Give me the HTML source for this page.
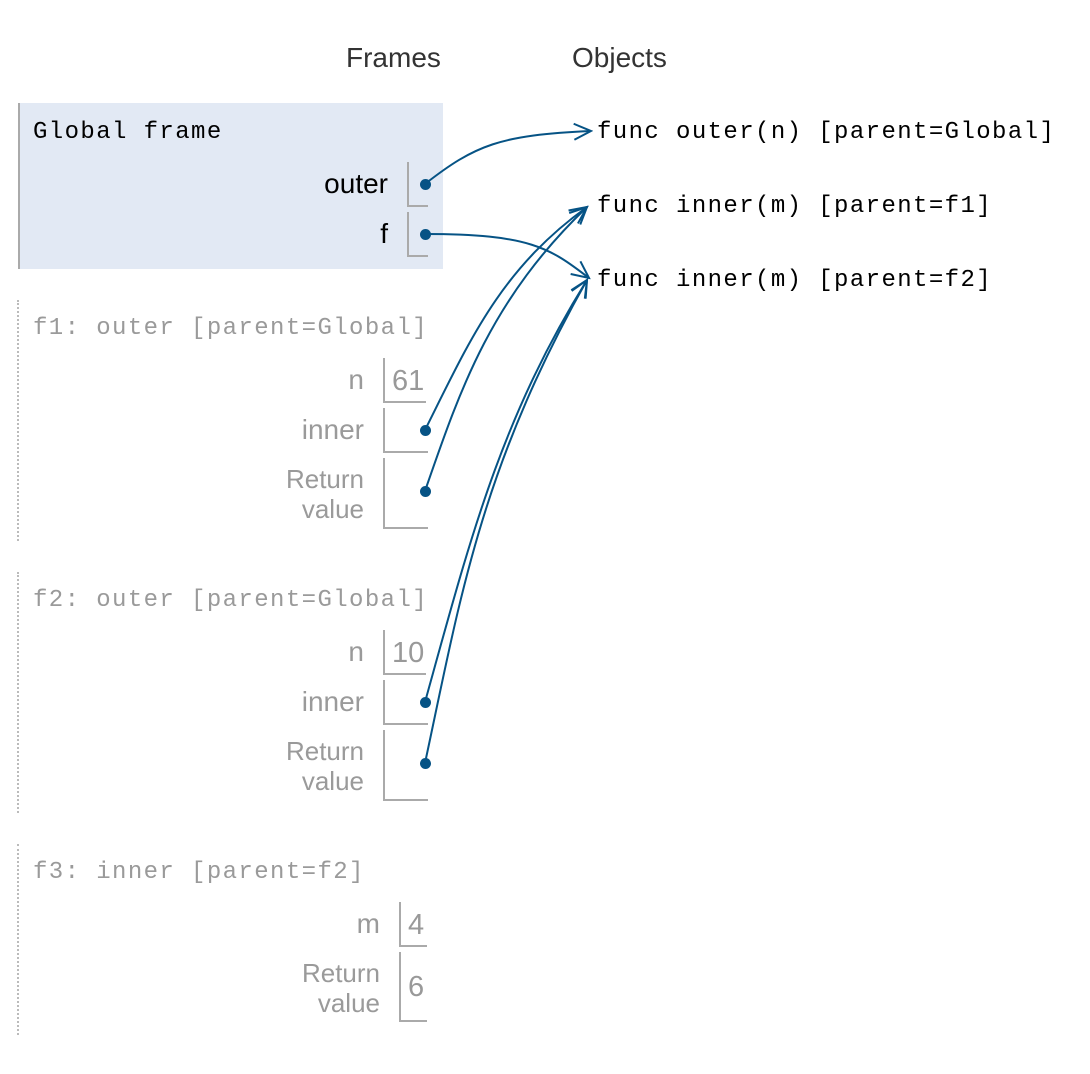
<!DOCTYPE html>
<html><head><meta charset="utf-8"><style>
body{margin:0;width:1090px;height:1074px;background:#fff;position:relative;overflow:hidden;font-family:"Liberation Sans",sans-serif}
.a{position:absolute;white-space:nowrap}
.mono{font-family:"Liberation Mono",monospace;font-size:24px;letter-spacing:1.4px}
.lbl{font-size:28px;text-align:right}
.g{color:#9a9a9a}
.box{position:absolute;border-left:2px solid #aaa;border-bottom:2px solid #aaa;width:19px}
.vbox{position:absolute;border-left:2px solid #aaa;border-bottom:2px solid #aaa;width:43px;color:#999;font-size:29px;padding-left:7px;box-sizing:border-box}
.dot{position:absolute;width:11px;height:11px;border-radius:50%;background:#065385}
.dash{position:absolute;left:17px;width:0;border-left:2px dotted #bbb}
.rv{font-size:26px;text-align:right;line-height:30px}
</style></head><body>
<div class="a" style="left:346px;top:42px;font-size:28px;color:#333">Frames</div>
<div class="a" style="left:572px;top:42px;font-size:28px;color:#333">Objects</div>

<div class="a" style="left:18px;top:103px;width:425px;height:166px;background:#e2e9f4;border-left:2px solid #aaa;box-sizing:border-box"></div>
<div class="a mono" style="left:33px;top:119px">Global frame</div>
<div class="a lbl" style="right:702px;top:168px">outer</div>
<div class="box" style="left:407px;top:162px;height:43px"></div>
<div class="a lbl" style="right:702px;top:218px">f</div>
<div class="box" style="left:407px;top:212px;height:43px"></div>

<div class="dash" style="top:300px;height:241px"></div>
<div class="a mono g" style="left:33px;top:315px">f1: outer [parent=Global]</div>
<div class="a lbl g" style="right:726px;top:364px">n</div>
<div class="vbox" style="left:383px;top:358px;height:45px;line-height:46px">61</div>
<div class="a lbl g" style="right:726px;top:414px">inner</div>
<div class="box" style="left:383px;top:408px;height:43px;width:43px"></div>
<div class="a g rv" style="right:726px;top:464px">Return<br>value</div>
<div class="box" style="left:383px;top:458px;height:69px;width:43px"></div>

<div class="dash" style="top:572px;height:241px"></div>
<div class="a mono g" style="left:33px;top:587px">f2: outer [parent=Global]</div>
<div class="a lbl g" style="right:726px;top:636px">n</div>
<div class="vbox" style="left:383px;top:630px;height:45px;line-height:46px">10</div>
<div class="a lbl g" style="right:726px;top:686px">inner</div>
<div class="box" style="left:383px;top:680px;height:43px;width:43px"></div>
<div class="a g rv" style="right:726px;top:736px">Return<br>value</div>
<div class="box" style="left:383px;top:730px;height:69px;width:43px"></div>

<div class="dash" style="top:844px;height:191px"></div>
<div class="a mono g" style="left:33px;top:859px">f3: inner [parent=f2]</div>
<div class="a lbl g" style="right:710px;top:908px">m</div>
<div class="vbox" style="left:399px;top:902px;height:45px;line-height:46px;width:28px">4</div>
<div class="a g rv" style="right:710px;top:958px">Return<br>value</div>
<div class="vbox" style="left:399px;top:952px;height:70px;line-height:70px;width:28px">6</div>

<div class="a mono" style="left:597px;top:119px">func outer(n) [parent=Global]</div>
<div class="a mono" style="left:597px;top:193px">func inner(m) [parent=f1]</div>
<div class="a mono" style="left:597px;top:267px">func inner(m) [parent=f2]</div>

<div class="dot" style="left:420px;top:179px"></div>
<div class="dot" style="left:420px;top:229px"></div>
<div class="dot" style="left:420px;top:425px"></div>
<div class="dot" style="left:420px;top:486px"></div>
<div class="dot" style="left:420px;top:697px"></div>
<div class="dot" style="left:420px;top:758px"></div>

<svg class="a" style="left:0;top:0" width="1090" height="1074">
<defs><marker id="m" markerWidth="20" markerHeight="18" refX="18" refY="9" orient="auto" markerUnits="userSpaceOnUse"><path d="M1,1 L18,9 L1,17" fill="none" stroke="#065385" stroke-width="2"/></marker></defs>
<g fill="none" stroke="#065385" stroke-width="2" marker-end="url(#m)">
<path d="M425,184 C475,145 500,135 591,131"/>
<path d="M425,234 C530,234 550,248 589,278"/>
<path d="M425,430 C470,340 500,270 587,207"/>
<path d="M425,491 C460,390 490,300 587,207"/>
<path d="M425,702 C470,540 500,420 587,280"/>
<path d="M425,763 C460,600 480,470 587,280"/>
</g></svg>
</body></html>
